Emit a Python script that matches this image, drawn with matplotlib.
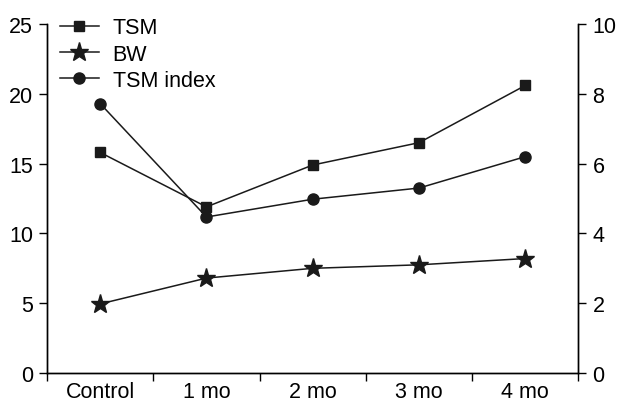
import matplotlib.pyplot as plt

# Data
groups = ['Control', '1 mo', '2 mo', '3 mo', '4 mo']
tsm = [15.8, 11.9, 14.9, 16.5, 20.6]
bw = [4.95, 6.8, 7.5, 7.75, 8.2]
tsm_index = [7.72, 4.47, 4.98, 5.3, 6.2]

plt.rcParams['font.family'] = ['Liberation Sans', 'DejaVu Sans']
plt.rcParams['font.size'] = 15.5

fig = plt.figure(figsize=(6.17, 4.06), dpi=100)
ax = fig.add_axes([0.0762, 0.0788, 0.8614, 0.8596])
ax2 = ax.twinx()

x = list(range(len(groups)))
l1, = ax.plot(x, tsm, color='#1a1a1a', lw=1.1, marker='s', ms=7, label='TSM')
l2, = ax.plot(x, bw, color='#1a1a1a', lw=1.1, marker='*', ms=14, label='BW')
l3, = ax2.plot(x, tsm_index, color='#1a1a1a', lw=1.1, marker='o', ms=8, label='TSM index')

ax.set_xlim(-0.5, len(groups) - 0.5)
ax.set_ylim(0, 25)
ax2.set_ylim(0, 10)
ax.set_yticks([0, 5, 10, 15, 20, 25])
ax2.set_yticks([0, 2, 4, 6, 8, 10])

# tick marks between groups, labels centred under each group
ax.set_xticks([i - 0.5 for i in range(len(groups) + 1)])
ax.set_xticklabels([])
ax.set_xticks(x, minor=True)
ax.set_xticklabels(groups, minor=True)
ax.tick_params(axis='x', which='minor', length=0, pad=6)
ax.tick_params(axis='x', which='major', length=6, width=1)
ax.tick_params(axis='y', length=6, width=1, pad=4)
ax2.tick_params(axis='y', length=6, width=1, pad=4)

for a in (ax, ax2):
    a.spines['top'].set_visible(False)
    for s in a.spines.values():
        s.set_linewidth(1)

ax.legend(handles=[l1, l2, l3], loc='upper left', frameon=False,
          handlelength=1.8, handletextpad=0.65, labelspacing=0.25,
          borderaxespad=0.0, bbox_to_anchor=(0.008, 1.044))

fig.savefig('out.png', dpi=100)
